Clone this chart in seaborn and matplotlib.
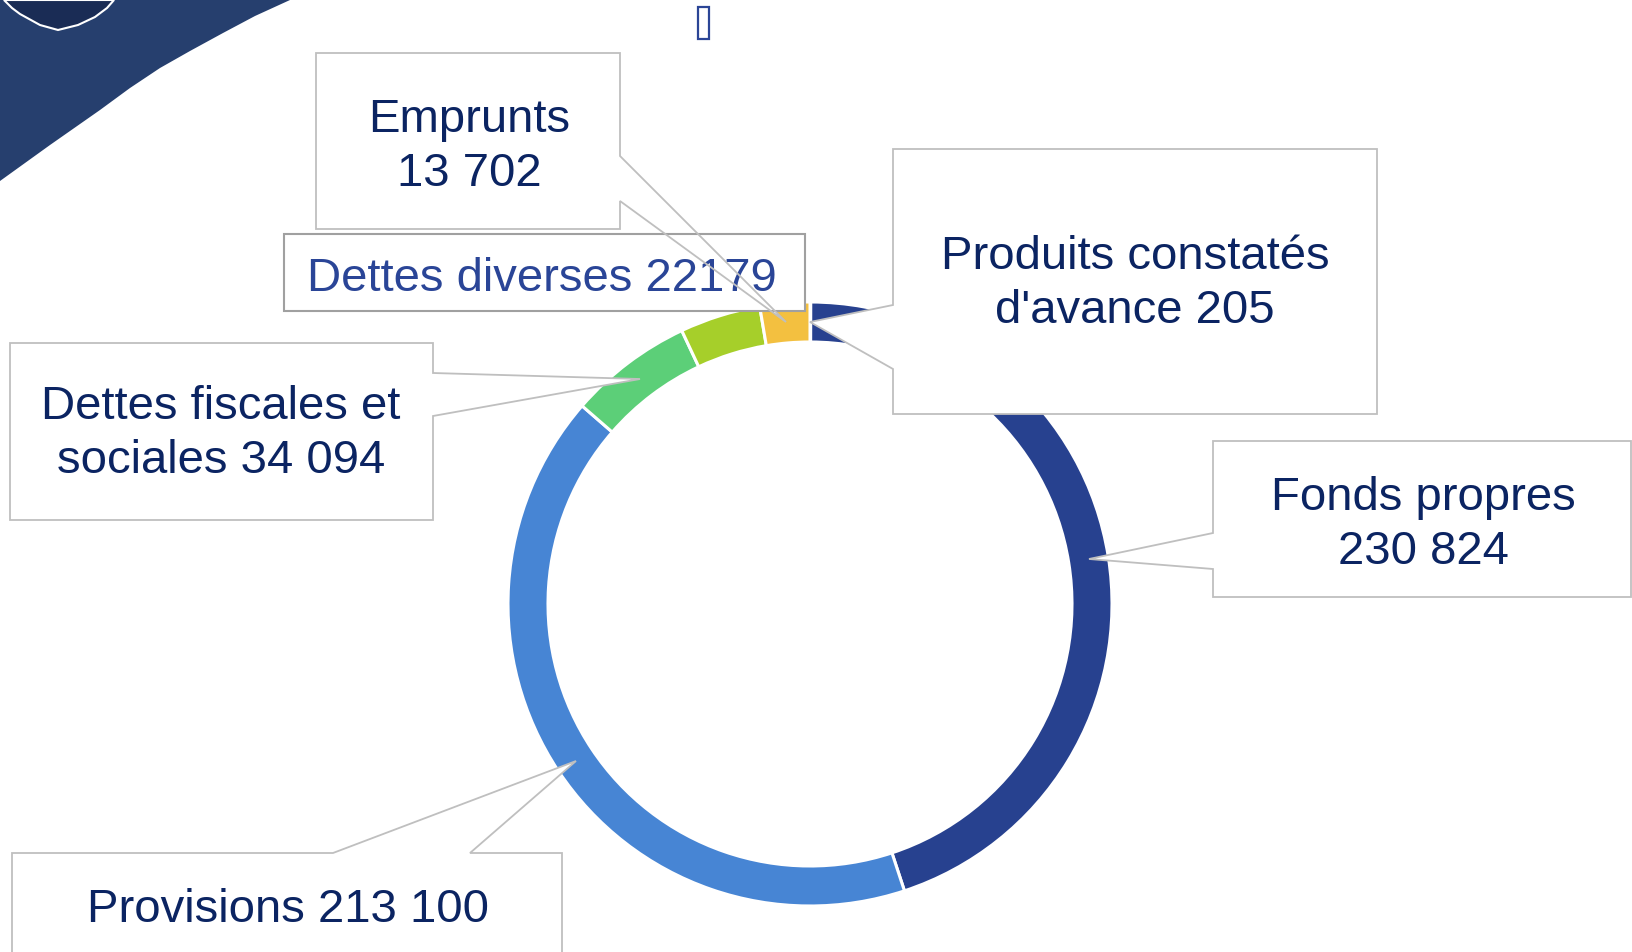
import numpy as np
import matplotlib
matplotlib.use("Agg")
import matplotlib.pyplot as plt
from matplotlib.patches import Polygon, Rectangle
import seaborn as sns

# données du bilan (passif)
labels = ["Produits constatés\nd'avance 205", "Fonds propres\n230 824", "Provisions 213 100",
          "Dettes fiscales et\nsociales 34 094", "Dettes diverses 22179", "Emprunts\n13 702"]
values = [205, 230824, 213100, 34094, 22179, 13702]
colors = ["#253f8e", "#27418f", "#4785d4", "#5ccf78", "#a6cf2a", "#f3c040"]

W, H = 1632, 952

sns.set_style("white")
plt.rcParams['font.family'] = ['Liberation Sans', 'DejaVu Sans']

fig = plt.figure(figsize=(W / 100, H / 100), dpi=100)
ax = fig.add_axes([0, 0, 1, 1])

# anneau
ax.pie(values, colors=sns.color_palette(colors), startangle=90, counterclock=False,
       radius=302, center=(810, H - 604),
       wedgeprops=dict(width=40, edgecolor="white", linewidth=2.2))
ax.set_xlim(0, W)
ax.set_ylim(0, H)
ax.set_aspect("auto")
ax.axis("off")

def pt(x, y):
    return (x, H - y)

# décor en haut à gauche
curve = [pt(0, 0), pt(290, 0), pt(255, 16), pt(223, 33), pt(190, 51), pt(160, 68),
         pt(130, 88), pt(100, 110), pt(50, 145), pt(0, 181)]
ax.add_patch(Polygon(curve, closed=True, fc="#263f6e", ec="none", zorder=0))
shield = [pt(4, 0), pt(12, 8), pt(20, 14), pt(40, 25), pt(58, 30), pt(78, 25), pt(95, 17),
          pt(107, 8), pt(114, 0)]
ax.add_patch(Polygon(shield, closed=True, fc="#1a2c55", ec="white", lw=1.5, zorder=1))
ax.add_patch(Rectangle(pt(698, 39), 11, 32, fc="none", ec="#2b4596", lw=1.6, zorder=2))


def callout(box, side, base, tip, fill=True, edge=True, z=3):
    L, T, R, B = box
    b1, b2 = base
    if side == "right":
        v = [(L, T), (R, T), (R, b1), tip, (R, b2), (R, B), (L, B)]
    elif side == "left":
        v = [(L, T), (R, T), (R, B), (L, B), (L, b2), tip, (L, b1)]
    else:
        v = [(L, T), (b1, T), tip, (b2, T), (R, T), (R, B), (L, B)]
    v = [pt(x, y) for x, y in v]
    ax.add_patch(Polygon(v, closed=True, fc="white" if fill else "none",
                         ec="#bfbfbf" if edge else "none", lw=1.3, zorder=z))


# va="baseline" : position = ligne de base de la dernière ligne
txt = dict(fontsize=34, color="#0b2462", ha="center", va="baseline", linespacing=1.28, zorder=10)

# Emprunts (fond sous la boîte "Dettes diverses", contour au-dessus)
callout((316, 53, 620, 229), "right", (156, 201), (786, 322), fill=True, edge=False, z=3)
ax.add_patch(Rectangle(pt(284, 311), 805 - 284, 311 - 234, fc="white", ec="#a0a0a0", lw=1.5, zorder=4))
ax.text(*pt(542, 291), labels[4], **{**txt, "color": "#2a4597", "zorder": 5})
callout((316, 53, 620, 229), "right", (156, 201), (786, 322), fill=False, edge=True, z=6)
ax.text(*pt(469, 186), labels[5], **txt)

callout((10, 343, 433, 520), "right", (373, 416), (640, 379))
ax.text(*pt(221, 473), labels[3], **txt)

callout((893, 149, 1377, 414), "left", (305, 369), (810, 322))
ax.text(*pt(1135, 323), labels[0], **txt)

callout((1213, 441, 1631, 597), "left", (533, 569), (1089, 559))
ax.text(*pt(1423, 564), labels[1], **txt)

callout((12, 853, 562, 1000), "top", (333, 470), (576, 761))
ax.text(*pt(288, 922), labels[2], **txt)

fig.savefig("out.png", dpi=100)
